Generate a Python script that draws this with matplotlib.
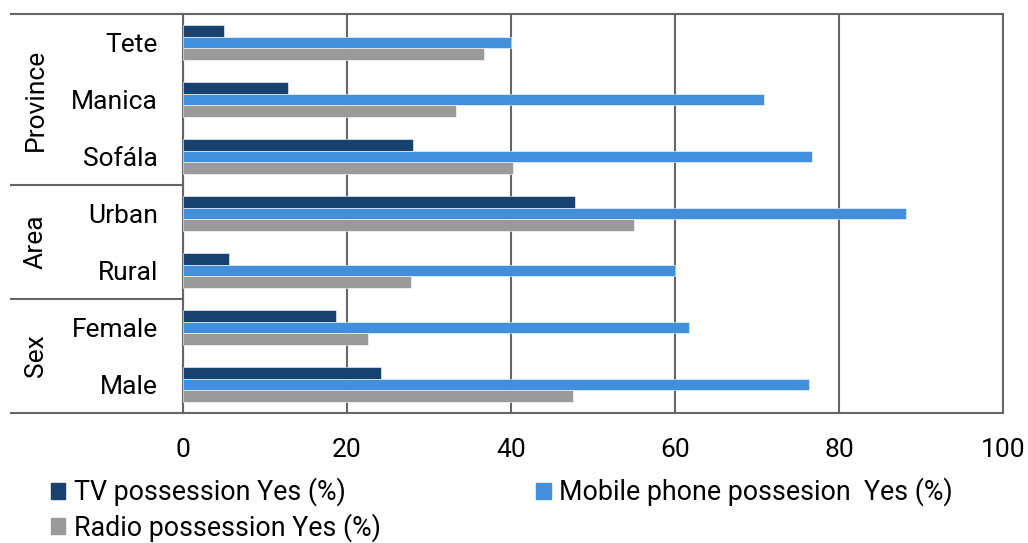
import numpy as np
import matplotlib.pyplot as plt
from matplotlib.patches import Patch
import matplotlib.transforms as mtransforms

plt.rcParams['font.family'] = ['Roboto', 'DejaVu Sans']

# Data
categories = ['Tete', 'Manica', 'Sofála', 'Urban', 'Rural', 'Female', 'Male']
groups = ['Province', 'Area', 'Sex']
group_sizes = [3, 2, 2]
tv = [5.0, 12.8, 28.0, 47.8, 5.6, 18.7, 24.2]
mobile = [40.0, 70.8, 76.7, 88.2, 60.0, 61.7, 76.4]
radio = [36.7, 33.3, 40.3, 55.0, 27.8, 22.5, 47.5]
series_names = ['TV possession Yes (%)', 'Mobile phone possesion  Yes (%)', 'Radio possession Yes (%)']
colors = ['#17426F', '#428FDD', '#9A9A9A']

W, H = 1028, 543
fig = plt.figure(figsize=(W / 100, H / 100), dpi=100)
L, R, T, B = 183, 1003, 14, 413
ax = fig.add_axes([L / W, 1 - B / H, (R - L) / W, (B - T) / H])

y = np.arange(len(categories))
h = 0.21
for vals, off, c in zip([tv, mobile, radio], [-h, 0, h], colors):
    ax.barh(y + off, vals, height=h, color=c, edgecolor='white', linewidth=0.4, zorder=3)

ax.set_xlim(0, 100)
ax.set_ylim(len(categories) - 0.5, -0.5)
ax.set_xticks([0, 20, 40, 60, 80, 100])
ax.set_yticks(y)
ax.set_yticklabels(categories)
ax.tick_params(axis='x', length=0, pad=18, labelsize=19)
ax.tick_params(axis='y', length=0, pad=18, labelsize=19)
ax.grid(axis='x', color='#666666', linewidth=1.5, zorder=1)
for s in ax.spines.values():
    s.set_color('#666666')
    s.set_linewidth(1.5)

# category table lines on the left
trans = mtransforms.blended_transform_factory(ax.transAxes, ax.transData)
x0 = (11 - L) / (R - L)
bounds = [-0.5] + list(np.cumsum(group_sizes) - 0.5)
for b in bounds:
    ax.plot([x0, 0], [b, b], color='#666666', linewidth=1.5, transform=trans, clip_on=False)

xg = (36 - L) / (R - L)
for g, lo, hi in zip(groups, bounds[:-1], bounds[1:]):
    ax.text(xg, (lo + hi) / 2, g, rotation=90, ha='center', va='center',
            fontsize=19, transform=trans)

handles = [Patch(color=c, label=n) for c, n in zip(colors, series_names)]
order = [0, 2, 1]
fig.legend([handles[i] for i in order], [series_names[i] for i in order],
           ncol=2, loc='upper left', bbox_to_anchor=(40 / W, 1 - 467 / H),
           frameon=False, fontsize=19.3, handlelength=0.55, handleheight=0.55,
           handletextpad=0.3, columnspacing=5.8, labelspacing=0.25, borderaxespad=0)

fig.savefig('out.png', dpi=100)
